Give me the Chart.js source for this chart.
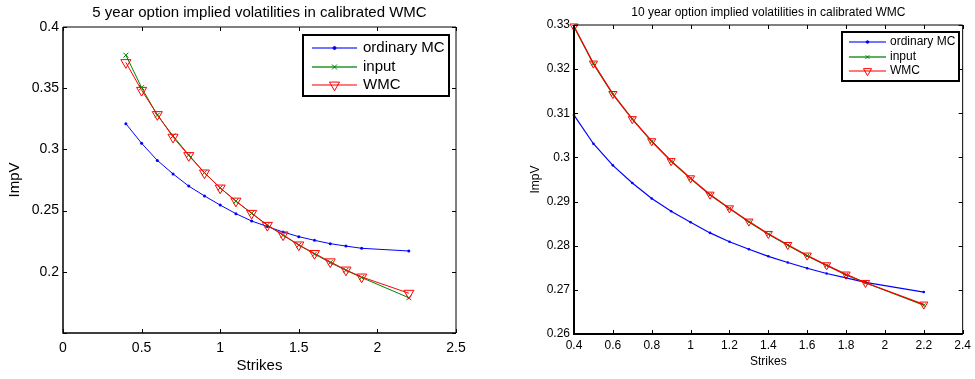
<!DOCTYPE html>
<html>
<head>
<meta charset="utf-8">
<script src="https://cdn.jsdelivr.net/npm/chart.js@4/dist/chart.umd.min.js"></script>
<style>
	html, body { margin: 0; padding: 0; background: #fff; }
	body { width: 975px; height: 379px; position: relative; overflow: hidden; }
	canvas { position: absolute; top: 0; }
</style>
</head>
<body>
<canvas id="left" width="487" height="379" style="left:0"></canvas>
<canvas id="right" width="488" height="379" style="left:487px"></canvas>
<script>
// strikes used in both panels
const strikes = [0.4, 0.5, 0.6, 0.7, 0.8, 0.9, 1.0, 1.1, 1.2, 1.3, 1.4, 1.5, 1.6, 1.7, 1.8, 1.9, 2.2];

// 5 year panel
const mc5 = [0.321, 0.305, 0.291, 0.280, 0.270, 0.262, 0.2545, 0.2475, 0.2415, 0.237, 0.2325, 0.2287, 0.2257, 0.223, 0.221, 0.2192, 0.217];
const input5 = [0.377, 0.3505, 0.328, 0.311, 0.2955, 0.281, 0.2686, 0.2577, 0.2478, 0.2382, 0.2298, 0.2218, 0.2145, 0.2075, 0.2012, 0.1953, 0.1788];
const wmc5 = [0.371, 0.3483, 0.3285, 0.310, 0.295, 0.2808, 0.2685, 0.2578, 0.2478, 0.238, 0.2302, 0.222, 0.215, 0.2082, 0.2015, 0.1958, 0.1825];

// 10 year panel
const mc10 = [0.3096, 0.3031, 0.2982, 0.2942, 0.2907, 0.2878, 0.2853, 0.2829, 0.2809, 0.2792, 0.2776, 0.2762, 0.2749, 0.2737, 0.2727, 0.2717, 0.2695];
const input10 = [0.3296, 0.3212, 0.3143, 0.3087, 0.3036, 0.2991, 0.2952, 0.2915, 0.2884, 0.2854, 0.2826, 0.2801, 0.2777, 0.2755, 0.2734, 0.2716, 0.2665];
const wmc10 = [0.3297, 0.3213, 0.3144, 0.3087, 0.3037, 0.2992, 0.2953, 0.2916, 0.2885, 0.2855, 0.2827, 0.2802, 0.2778, 0.2756, 0.2735, 0.2716, 0.2667];

const seriesNames = ["ordinary MC", "input", "WMC"];
const titles = [
	"5 year option implied volatilities in calibrated WMC",
	"10 year option implied volatilities in calibrated WMC",
];
const xTitle = "Strikes";
const yTitle = "ImpV";

const FONT = "'Liberation Sans', Arial, Helvetica, sans-serif";

const toXY = (ys) => ys.map((y, i) => ({ x: strikes[i], y: y }));
const fmt = (v) => String(Math.round(v * 100) / 100);

// matlab style frame, inward ticks, title and legend
const matlabPlugin = {
	id: "matlab",
	afterDraw(chart) {
		const o = chart.options.plugins.matlab;
		const ctx = chart.ctx;
		const a = chart.chartArea;
		const xs = chart.scales.x, ys = chart.scales.y;
		ctx.save();

		// ticks on all four sides
		ctx.strokeStyle = "#000";
		ctx.lineWidth = 1;
		ctx.beginPath();
		xs.ticks.forEach((t) => {
			const px = Math.round(xs.getPixelForValue(t.value)) + 0.5;
			ctx.moveTo(px, a.bottom); ctx.lineTo(px, a.bottom - o.tick);
			ctx.moveTo(px, a.top); ctx.lineTo(px, a.top + o.tick);
		});
		ys.ticks.forEach((t) => {
			const py = Math.round(ys.getPixelForValue(t.value)) + 0.5;
			ctx.moveTo(a.left, py); ctx.lineTo(a.left + o.tick, py);
			ctx.moveTo(a.right, py); ctx.lineTo(a.right - o.tick, py);
		});
		ctx.stroke();

		// box
		ctx.lineWidth = o.boxTop;
		ctx.beginPath();
		ctx.moveTo(a.left, a.top); ctx.lineTo(a.right, a.top); ctx.lineTo(a.right, a.bottom);
		ctx.stroke();
		ctx.lineWidth = o.boxLeft;
		ctx.beginPath();
		ctx.moveTo(a.left, a.top); ctx.lineTo(a.left, a.bottom); ctx.lineTo(a.right, a.bottom);
		ctx.stroke();

		// title
		ctx.fillStyle = "#000";
		ctx.font = o.titleSize + "px " + FONT;
		ctx.textAlign = "center";
		ctx.textBaseline = "middle";
		ctx.fillText(o.title, (a.left + a.right) / 2, o.titleY);

		// legend
		const L = o.legend;
		ctx.fillStyle = "#fff";
		ctx.fillRect(L.x, L.y, L.w, L.h);
		ctx.lineWidth = 2;
		ctx.strokeStyle = "#000";
		ctx.strokeRect(L.x, L.y, L.w, L.h);
		ctx.font = L.size + "px " + FONT;
		ctx.textAlign = "left";
		chart.data.datasets.forEach((ds, i) => {
			const y = L.rows[i];
			ctx.strokeStyle = ds.legendColor;
			ctx.lineWidth = 2;
			ctx.beginPath();
			ctx.moveTo(L.lineX0, y); ctx.lineTo(L.lineX1, y);
			ctx.stroke();
			ctx.strokeStyle = ds.borderColor;
			ctx.fillStyle = ds.pointBackgroundColor;
			ctx.lineWidth = 1;
			Chart.helpers.drawPoint(ctx, {
				pointStyle: ds.pointStyle,
				radius: ds.pointRadius,
				rotation: ds.pointRotation || 0,
				borderWidth: 1,
			}, (L.lineX0 + L.lineX1) / 2, y);
			ctx.fillStyle = "#000";
			ctx.fillText(ds.label, L.textX, y);
		});
		ctx.restore();
	},
};

function makeChart(id, d, s) {
	const datasets = [
		{
			label: seriesNames[0], data: toXY(d[0]),
			borderColor: "#0000ff", backgroundColor: "#0000ff", pointBackgroundColor: "#0000ff",
			legendColor: "rgba(70,70,255,0.75)",
			pointStyle: "circle", pointRadius: s.dot, pointBorderWidth: 0, order: 2,
		},
		{
			label: seriesNames[1], data: toXY(d[1]),
			borderColor: "#008000", backgroundColor: "#008000", pointBackgroundColor: "#008000",
			legendColor: "rgba(40,150,40,0.75)",
			pointStyle: "crossRot", pointRadius: s.cross, pointBorderWidth: 1, order: 1,
		},
		{
			label: seriesNames[2], data: toXY(d[2]),
			borderColor: "#ff0000", backgroundColor: "rgba(0,0,0,0)", pointBackgroundColor: "rgba(0,0,0,0)",
			legendColor: "rgba(255,90,90,0.8)",
			pointStyle: "triangle", pointRotation: 180, pointRadius: s.tri, pointBorderWidth: 1, order: 0,
		},
	];
	datasets.forEach((ds) => {
		ds.borderWidth = s.lineW;
		ds.pointHoverRadius = ds.pointRadius;
		ds.tension = 0;
		ds.clip = false;
	});

	return new Chart(document.getElementById(id).getContext("2d"), {
		type: "line",
		data: { datasets: datasets },
		plugins: [matlabPlugin],
		options: {
			responsive: false,
			animation: false,
			events: [],
			layout: { padding: s.pad },
			plugins: {
				legend: { display: false },
				title: { display: false },
				tooltip: { enabled: false },
				matlab: s.matlab,
			},
			scales: {
				x: {
					type: "linear", min: s.xMin, max: s.xMax,
					afterFit: (sc) => { sc.height = s.xH; },
					grid: { display: false, drawTicks: false }, border: { display: false },
					ticks: {
						stepSize: s.xStep, padding: s.xTickPad, color: "#000",
						font: { family: FONT, size: s.tickSize }, maxRotation: 0,
						callback: (v) => fmt(v),
					},
					title: {
						display: true, text: xTitle, color: "#000",
						font: { family: FONT, size: s.labelSize },
						padding: { top: 0, bottom: s.xTitlePad },
					},
				},
				y: {
					type: "linear", min: s.yMin, max: s.yMax,
					afterFit: (sc) => { sc.width = s.yW; },
					grid: { display: false, drawTicks: false }, border: { display: false },
					ticks: {
						stepSize: s.yStep, padding: 4, color: "#000",
						font: { family: FONT, size: s.tickSize },
						callback: (v) => (s.hideY.includes(fmt(v)) ? "" : fmt(v)),
					},
					title: {
						display: true, text: yTitle, color: "#000",
						font: { family: FONT, size: s.labelSize },
						padding: { top: s.yTitlePad, bottom: 0 },
					},
				},
			},
		},
	});
}

window.onload = () => {
	makeChart("left", [mc5, input5, wmc5], {
		pad: { top: 27, right: 31, left: 0, bottom: 0 },
		xH: 46, yW: 63,
		xMin: 0, xMax: 2.5, xStep: 0.5,
		yMin: 0.15, yMax: 0.4, yStep: 0.05, hideY: ["0.15"],
		tickSize: 14, labelSize: 15, xTickPad: 7, xTitlePad: 4, yTitlePad: 6,
		dot: 1.5, cross: 3.5, tri: 5.8, lineW: 1,
		matlab: {
			tick: 4, boxTop: 1, boxLeft: 1.5,
			title: titles[0], titleSize: 15, titleY: 13,
			legend: {
				x: 303, y: 35, w: 146, h: 61, size: 15,
				lineX0: 312, lineX1: 357, textX: 363, rows: [48, 67, 85],
			},
		},
	});

	makeChart("right", [mc10, input10, wmc10], {
		pad: { top: 25, right: 10, left: 0, bottom: 0 },
		xH: 45, yW: 87,
		xMin: 0.4, xMax: 2.4, xStep: 0.2,
		yMin: 0.26, yMax: 0.33, yStep: 0.01, hideY: [],
		tickSize: 12, labelSize: 12, xTickPad: 4, xTitlePad: 10, yTitlePad: 41,
		dot: 1.3, cross: 2.6, tri: 4.7, lineW: 1.2,
		matlab: {
			tick: 4, boxTop: 1, boxLeft: 2,
			title: titles[1], titleSize: 12, titleY: 13,
			legend: {
				x: 355, y: 32, w: 117, h: 49, size: 12,
				lineX0: 362, lineX1: 399, textX: 403, rows: [42, 57, 71],
			},
		},
	});
};
</script>
</body>
</html>
